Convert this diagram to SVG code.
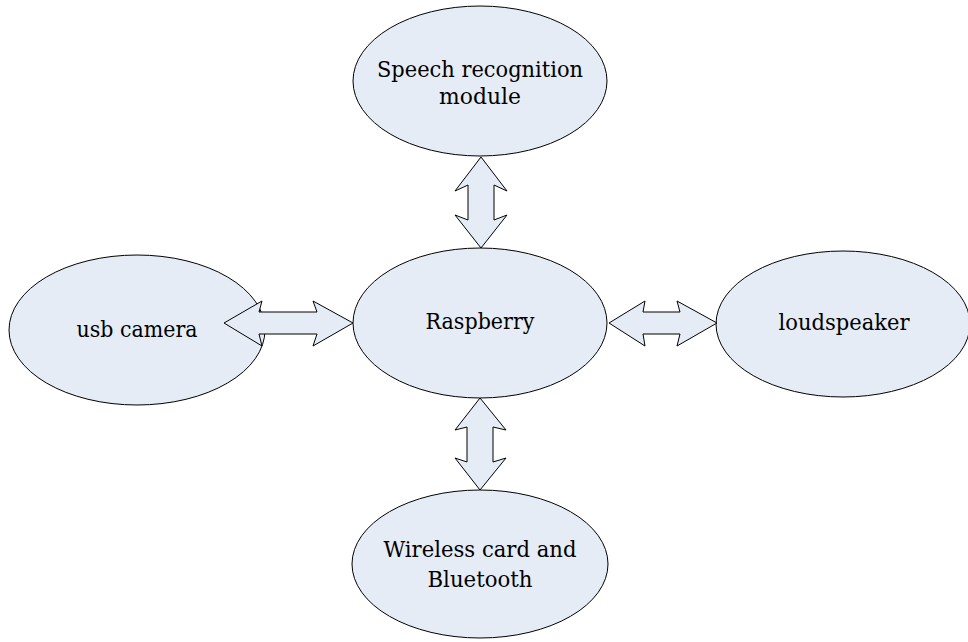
<svg xmlns="http://www.w3.org/2000/svg" width="968" height="642" viewBox="0 0 968 642">
<style>
.n{fill:#e6ecf6;stroke:#000;stroke-width:1}
.a{fill:#e6ecf6;stroke:#000;stroke-width:1;stroke-linejoin:miter}
text{font-family:"DejaVu Serif","Liberation Serif",serif;font-size:23px;fill:#000;text-anchor:middle}
</style>
<rect width="968" height="642" fill="#fff"/>
<g id="speech">
<ellipse class="n" cx="480" cy="81" rx="127" ry="75"/>
<text x="480" y="77" textLength="206" lengthAdjust="spacingAndGlyphs">Speech recognition</text>
<text x="480" y="104" textLength="82" lengthAdjust="spacingAndGlyphs">module</text>
</g>
<g id="raspberry">
<ellipse class="n" cx="480" cy="323" rx="127" ry="75"/>
<text x="480" y="329" textLength="109" lengthAdjust="spacingAndGlyphs">Raspberry</text>
</g>
<g id="usbcamera">
<ellipse class="n" cx="137" cy="330" rx="128" ry="75"/>
<text x="137" y="337" textLength="121" lengthAdjust="spacingAndGlyphs">usb camera</text>
</g>
<g id="loudspeaker">
<ellipse class="n" cx="843" cy="324" rx="127" ry="73"/>
<text x="844" y="330" textLength="131" lengthAdjust="spacingAndGlyphs">loudspeaker</text>
</g>
<g id="wireless">
<ellipse class="n" cx="480" cy="564" rx="128" ry="74"/>
<text x="480" y="557" textLength="193" lengthAdjust="spacingAndGlyphs">Wireless card and</text>
<text x="480" y="587" textLength="105" lengthAdjust="spacingAndGlyphs">Bluetooth</text>
</g>
<g id="connectors">
<polygon class="a" points="481,157 507,191 494,185 494,220 507,215 481,248 455,215 468,220 468,185 455,191"/>
<polygon class="a" points="480,398 506,430 493,427 493,462 506,458 480,490 455,458 467,462 467,427 455,430"/>
<polygon class="a" points="224,323 262,301 259,312 317,312 313,301 353,323 313,346 317,334 259,334 262,346"/>
<polygon class="a" points="609,323 645,301 643,312 680,312 677,301 717,323 677,346 680,334 643,334 645,346"/>
</g>
</svg>
